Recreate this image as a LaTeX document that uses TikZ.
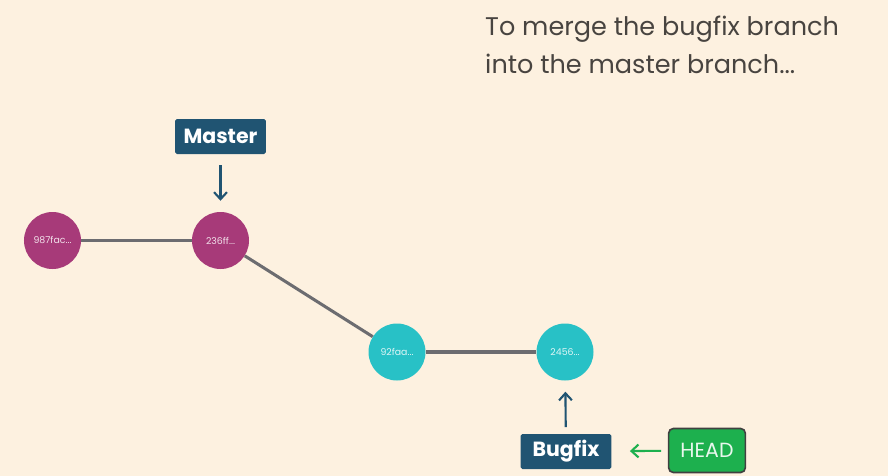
\documentclass[tikz,border=0pt]{standalone}
\usepackage{fontspec}
\setmainfont{Poppins}
\usetikzlibrary{
  arrows.meta,
  positioning
}
\definecolor{bgcream}{RGB}{253,241,224}
\definecolor{commitred}{RGB}{167,58,121}
\definecolor{committeal}{RGB}{40,193,198}
\definecolor{branchblue}{RGB}{32,84,114}
\definecolor{headgreen}{RGB}{29,176,78}
\definecolor{linegray}{RGB}{108,108,112}
\definecolor{textgray}{RGB}{72,68,64}
\tikzset{>=Latex}
\tikzset{
  commit/.style={circle,minimum size=1.71cm,inner sep=0pt,
    font=\fontsize{8}{9}\selectfont},
  oldcommit/.style={commit,fill=commitred,text=white!85!commitred},
  newcommit/.style={commit,fill=committeal,text=white!85!committeal},
  branch/.style={fill=branchblue,text=white,rounded corners=1.5pt,
    minimum width=2.72cm,minimum height=1.05cm,inner sep=0pt,
    font=\fontsize{17.5}{20}\selectfont\bfseries},
  headbox/.style={fill=headgreen,draw=black!75,line width=1.4pt,
    rounded corners=4pt,text=white!90!headgreen,
    minimum width=2.3cm,minimum height=1.32cm,inner sep=0pt,
    font=\fontsize{17.5}{20}\selectfont},
  history/.style={draw=linegray,line width=2.6pt},
  pointer/.style={->,line width=1.8pt,
    >={Straight Barb[length=6pt,width=11pt,line width=1.8pt]}}
}

\begin{document}
\begin{tikzpicture}[x=0.03cm,y=-0.03cm]
\fill[bgcream] (0,0) rectangle (888,476);
\useasboundingbox (0,0) rectangle (888,476);

\node[anchor=base west,align=left,text=textgray,inner sep=0pt,
  font=\fontsize{21.8}{32.4}\selectfont] (title) at (485,73)
  {To merge the bugfix branch\\into the master branch...};

% commits
\node[oldcommit] (c1) at (52.5,240.5) {987fac...};
\node[oldcommit] (c2) at (220.5,240.5) {236ff...};
\node[newcommit] (c3) at (397,352) {92faa...};
\node[newcommit] (c4) at (565,352) {2456...};
\draw[history] (c1) -- (c2);
\draw[history] (c2) -- (c3);
\draw[history] (c3) -- (c4);

% branch labels
\node[branch] (master) at (220.5,136.5) {Master};
\node[branch] (bugfix) at (566,451.5) {Bugfix};
\node[headbox] (head) at (707,450.5) {HEAD};

\draw[pointer,branchblue,shorten <=0.33cm,shorten >=0.33cm] (master) -- (c2);
\draw[pointer,branchblue,shorten <=0.2cm,shorten >=0.33cm] (bugfix) -- (c4);
\draw[pointer,headgreen,shorten <=0.2cm,shorten >=0.55cm] (head) -- (bugfix);
\end{tikzpicture}
\end{document}
